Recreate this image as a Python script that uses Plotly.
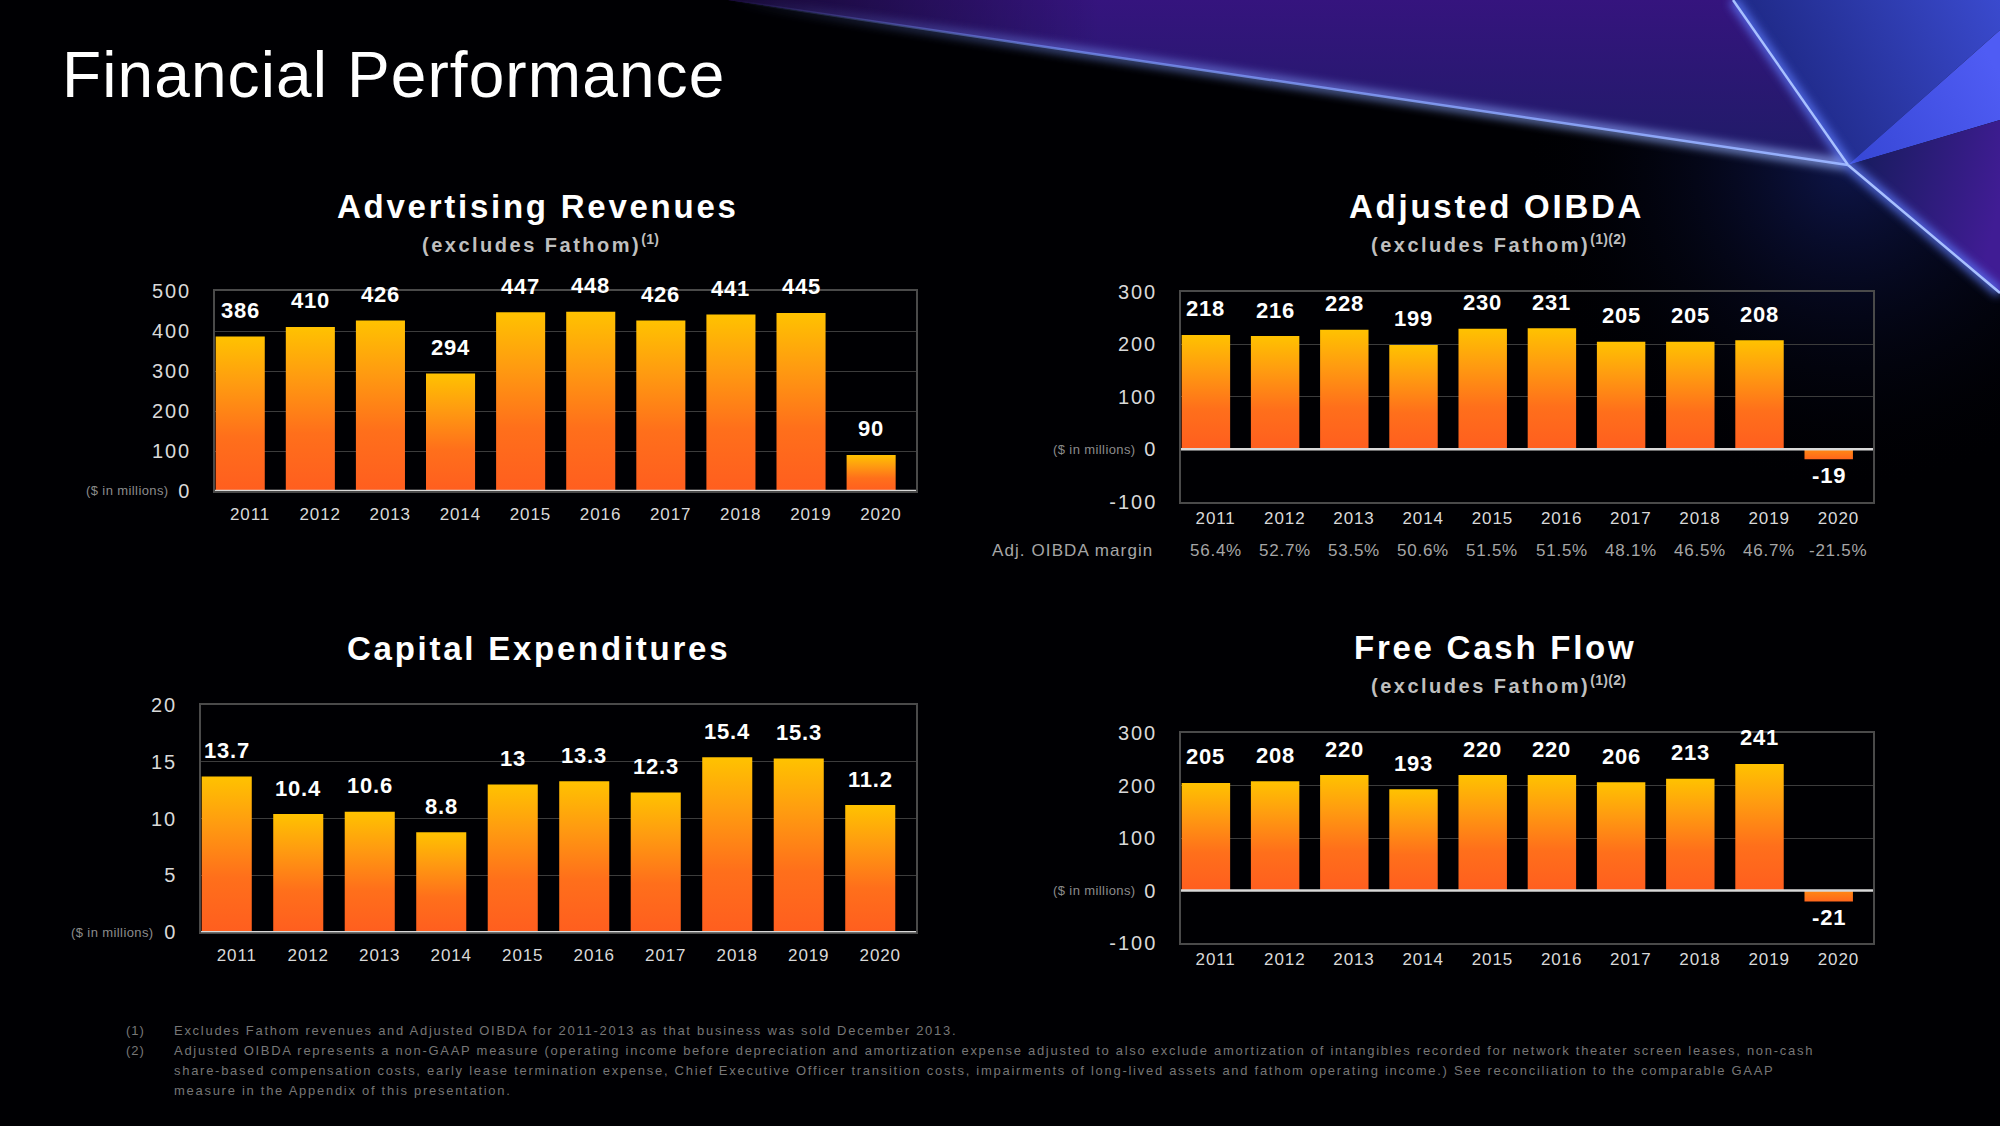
import base64
import plotly.graph_objects as go

W, H = 2000, 1126

# ---------------- data ----------------
years = ["2011", "2012", "2013", "2014", "2015", "2016", "2017", "2018", "2019", "2020"]
ad_revenue = [386, 410, 426, 294, 447, 448, 426, 441, 445, 90]
adj_oibda = [218, 216, 228, 199, 230, 231, 205, 205, 208, -19]
oibda_margin = ["56.4%", "52.7%", "53.5%", "50.6%", "51.5%", "51.5%", "48.1%", "46.5%", "46.7%", "-21.5%"]
capex = [13.7, 10.4, 10.6, 8.8, 13, 13.3, 12.3, 15.4, 15.3, 11.2]
free_cash_flow = [205, 208, 220, 193, 220, 220, 206, 213, 241, -21]

ticks_rev = [0, 100, 200, 300, 400, 500]
ticks_oibda = [-100, 0, 100, 200, 300]
ticks_capex = [0, 5, 10, 15, 20]
ticks_fcf = [-100, 0, 100, 200, 300]

footnotes = [
    ("(1)", "Excludes Fathom revenues and Adjusted OIBDA for 2011-2013 as that business was sold December 2013."),
    ("(2)", "Adjusted OIBDA represents a non-GAAP measure (operating income before depreciation and amortization expense adjusted to also exclude amortization of intangibles recorded for network theater screen leases, non-cash"),
    ("", "share-based compensation costs, early lease termination expense, Chief Executive Officer transition costs, impairments of long-lived assets and fathom operating income.) See reconciliation to the comparable GAAP"),
    ("", "measure in the Appendix of this presentation."),
]

# ---------------- style ----------------
FONT = '"Liberation Sans", Arial, "Helvetica Neue", sans-serif'
TICK = "#d9d9d9"
GRID = "#3c3c3c"
FRAME = "#4a4a4a"
POS_CS = [[0, "#ff5e1f"], [0.35, "#ff6f1b"], [0.7, "#ff9c10"], [1, "#ffc200"]]
NEG_CS = [[0, "#ff661c"], [1, "#ff8a14"]]


def fx(x):
    return x / W


def fy(y):
    return 1 - y / H


def ls(t, s):
    return f'<span style="letter-spacing:{s}px">{t}</span>'


panels = [
    dict(ax="", values=ad_revenue, xpx=(215, 916), ypx=(491, 291), yrange=(0, 500), ytick=ticks_rev,
         title="Advertising Revenues", tpos=(538, 206.5), sub="(excludes Fathom)", sup="(1)", spos=(540, 243),
         milx=171, xstand=7),
    dict(ax="2", values=adj_oibda, xpx=(1181, 1873), ypx=(501.7, 292), yrange=(-100, 300), ytick=ticks_oibda,
         title="Adjusted OIBDA", tpos=(1496, 206), sub="(excludes Fathom)", sup="(1)(2)", spos=(1498, 243.5),
         milx=1138, xstand=0),
    dict(ax="3", values=capex, xpx=(201, 916), ypx=(932.3, 705), yrange=(0, 20), ytick=ticks_capex,
         title="Capital Expenditures", tpos=(538, 648), sub=None, sup=None, spos=None,
         milx=156, xstand=7),
    dict(ax="4", values=free_cash_flow, xpx=(1181, 1873), ypx=(943, 733), yrange=(-100, 300), ytick=ticks_fcf,
         title="Free Cash Flow", tpos=(1495, 647.5), sub="(excludes Fathom)", sup="(1)(2)", spos=(1498, 684),
         milx=1138, xstand=0),
]

fig = go.Figure()
annotations = []
shapes = []

for p in panels:
    a = p["ax"]
    xa, ya = "x" + a, "y" + a
    # bars: filled rectangles with a vertical gradient, one per year
    for i, v in enumerate(p["values"]):
        lo, hi = min(0, v), max(0, v)
        x0, x1 = i - 0.49, i + 0.21
        fig.add_trace(go.Scatter(
            x=[x0, x0, x1, x1, x0], y=[lo, hi, hi, lo, lo], mode="none", fill="toself",
            fillgradient=dict(type="vertical", colorscale=POS_CS if v >= 0 else NEG_CS, start=lo, stop=hi),
            hoverinfo="skip", showlegend=False, xaxis=xa, yaxis=ya))
        annotations.append(dict(
            x=i - 0.14, y=v, xref=xa, yref=ya, text=ls(f"{v:g}", 0.8), showarrow=False,
            font=dict(size=22, color="#ffffff", weight="bold"), yanchor="middle",
            yshift=26 if v >= 0 else -16))
    fig.update_layout(**{
        "xaxis" + a: dict(domain=[fx(p["xpx"][0]), fx(p["xpx"][1])], range=[-0.5, 9.5],
                          tickvals=list(range(len(years))), ticktext=[ls(y, 0.9) for y in years],
                          showgrid=False, zeroline=False, showline=True, mirror=True, linecolor=FRAME,
                          linewidth=1.5, ticks="", tickfont=dict(size=17, color=TICK), automargin=False,
                          ticklabelstandoff=p["xstand"], anchor=ya, fixedrange=True),
        "yaxis" + a: dict(domain=[fy(p["ypx"][0]), fy(p["ypx"][1])], range=list(p["yrange"]),
                          tickvals=p["ytick"], ticktext=[ls(str(t), 2) for t in p["ytick"]],
                          showgrid=True, gridcolor=GRID, gridwidth=1.3, zeroline=False, showline=True,
                          mirror=True, linecolor=FRAME, linewidth=1.5, ticks="", automargin=False,
                          tickfont=dict(size=20, color=TICK), ticklabelstandoff=18, anchor=xa,
                          fixedrange=True),
    })
    # zero baseline
    shapes.append(dict(type="line", xref=xa + " domain", yref=ya, x0=0, x1=1, y0=0, y1=0,
                       line=dict(color="#d9d9d9", width=2.5), layer="above"))
    # titles
    annotations.append(dict(x=fx(p["tpos"][0]), y=fy(p["tpos"][1]), xref="paper", yref="paper",
                            text=ls(p["title"], 2.75), showarrow=False, xanchor="center", yanchor="middle",
                            font=dict(size=33, color="#ffffff", weight="bold")))
    if p["sub"]:
        annotations.append(dict(x=fx(p["spos"][0]), y=fy(p["spos"][1]), xref="paper", yref="paper",
                                text=ls(p["sub"], 2.5) + "<sup>" + ls(p["sup"], 0.3) + "</sup>",
                                showarrow=False, xanchor="center", yanchor="middle",
                                font=dict(size=20, color="#bfbfbf", weight="bold")))
    annotations.append(dict(x=fx(p["milx"]), y=0, xref="paper", yref=ya, text=ls("($ in millions)", 0.4),
                            showarrow=False, xanchor="right", yanchor="middle",
                            font=dict(size=13, color="#8c8c8c")))

# margin row under Adjusted OIBDA
annotations.append(dict(x=fx(1155), y=fy(550), xref="paper", yref="paper", text=ls("Adj. OIBDA margin", 1.1),
                        showarrow=False, xanchor="right", yanchor="middle",
                        font=dict(size=17, color="#a6a6a6")))
for i, m in enumerate(oibda_margin):
    annotations.append(dict(x=i, y=fy(550), xref="x2", yref="paper", text=ls(m, 0.75), showarrow=False,
                            xanchor="center", yanchor="middle", font=dict(size=17, color="#a6a6a6")))

# page title
annotations.append(dict(x=fx(60), y=fy(75), xref="paper", yref="paper", text=ls("Financial Performance", 1.1),
                        showarrow=False, xanchor="left", yanchor="middle",
                        font=dict(size=64, color="#ffffff")))

# footnotes
for k, (num, line) in enumerate(footnotes):
    yy = fy(1030 + k * 20.2)
    if num:
        annotations.append(dict(x=fx(124), y=yy, xref="paper", yref="paper", text=ls(num, 1),
                                showarrow=False, xanchor="left", yanchor="middle",
                                font=dict(size=13, color="#777777")))
    annotations.append(dict(x=fx(172), y=yy, xref="paper", yref="paper", text=ls(line, 1.72),
                            showarrow=False, xanchor="left", yanchor="middle",
                            font=dict(size=13, color="#777777")))

# decorative background (purple/blue light beams, top right)
svg = """<svg xmlns="http://www.w3.org/2000/svg" width="2000" height="1126" viewBox="0 0 2000 1126">
<defs>
<linearGradient id="gp" gradientUnits="userSpaceOnUse" x1="0" y1="0" x2="0" y2="170">
<stop offset="0" stop-color="#35147e"/><stop offset="1" stop-color="#1e1c66"/></linearGradient>
<linearGradient id="gpl" gradientUnits="userSpaceOnUse" x1="728" y1="0" x2="1100" y2="0">
<stop offset="0" stop-color="#000000" stop-opacity="0.6"/><stop offset="1" stop-color="#000000" stop-opacity="0"/></linearGradient>
<linearGradient id="gb" gradientUnits="userSpaceOnUse" x1="1780" y1="110" x2="2000" y2="0">
<stop offset="0" stop-color="#1e2884"/><stop offset="1" stop-color="#3a4ace"/></linearGradient>
<linearGradient id="gc" gradientUnits="userSpaceOnUse" x1="1848" y1="165" x2="2000" y2="75">
<stop offset="0" stop-color="#3646d4"/><stop offset="1" stop-color="#4f5cf4"/></linearGradient>
<linearGradient id="gd" gradientUnits="userSpaceOnUse" x1="1848" y1="165" x2="2000" y2="200">
<stop offset="0" stop-color="#161c5c"/><stop offset="1" stop-color="#401c94"/></linearGradient>
<linearGradient id="gl" gradientUnits="userSpaceOnUse" x1="728" y1="0" x2="1848" y2="165">
<stop offset="0" stop-color="#7a96ff" stop-opacity="0"/><stop offset="0.3" stop-color="#7a96ff" stop-opacity="0.65"/>
<stop offset="1" stop-color="#9ab4ff" stop-opacity="1"/></linearGradient>
<radialGradient id="glow" gradientUnits="userSpaceOnUse" cx="1848" cy="165" r="330">
<stop offset="0" stop-color="#1c2a90" stop-opacity="0.5"/><stop offset="1" stop-color="#000000" stop-opacity="0"/></radialGradient>
<filter id="blur" x="-20%" y="-20%" width="140%" height="140%"><feGaussianBlur stdDeviation="5"/></filter>
</defs>
<rect width="2000" height="1126" fill="#000003"/>
<circle cx="1848" cy="165" r="330" fill="url(#glow)"/>
<polygon points="728,0 1733,0 1848,165" fill="url(#gp)"/>
<polygon points="728,0 1733,0 1848,165" fill="url(#gpl)"/>
<polygon points="1733,0 2000,0 2000,30 1848,165" fill="url(#gb)"/>
<polygon points="1848,165 2000,30 2000,120" fill="url(#gc)"/>
<polygon points="1848,165 2000,120 2000,293" fill="url(#gd)"/>
<g filter="url(#blur)" opacity="0.85">
<line x1="728" y1="0" x2="1848" y2="165" stroke="url(#gl)" stroke-width="9"/>
<line x1="1733" y1="0" x2="1848" y2="165" stroke="#5f7cff" stroke-width="9"/>
<line x1="1848" y1="165" x2="2000" y2="293" stroke="#5f7cff" stroke-width="9"/>
</g>
<line x1="728" y1="0" x2="1848" y2="165" stroke="url(#gl)" stroke-width="2.5"/>
<line x1="1733" y1="0" x2="1848" y2="165" stroke="#a8c0ff" stroke-width="2.5"/>
<line x1="1848" y1="165" x2="2000" y2="293" stroke="#a8c0ff" stroke-width="2.5"/>
</svg>"""
bg_uri = "data:image/svg+xml;base64," + base64.b64encode(svg.encode("utf-8")).decode("ascii")

fig.update_layout(
    width=W, height=H, margin=dict(l=0, r=0, t=0, b=0, pad=0, autoexpand=False),
    paper_bgcolor="#000000", plot_bgcolor="rgba(0,0,0,0)",
    font=dict(family=FONT, color=TICK),
    showlegend=False, hovermode=False,
    annotations=annotations, shapes=shapes,
    images=[dict(source=bg_uri, xref="paper", yref="paper", x=0, y=1, sizex=1, sizey=1,
                 xanchor="left", yanchor="top", sizing="stretch", layer="below")],
)

fig.write_html(
    "out.html",
    config={"displayModeBar": False},
    post_script=("document.documentElement.style.margin='0';document.body.style.margin='0';"
                 "document.body.style.padding='0';document.body.style.overflow='hidden';"
                 "document.documentElement.style.overflow='hidden';document.body.style.background='#000';"),
)
